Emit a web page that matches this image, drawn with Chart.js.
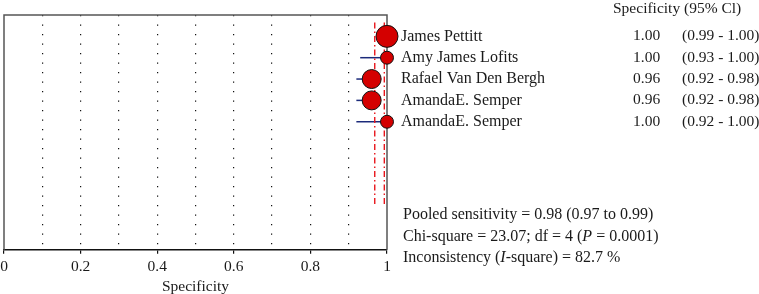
<!DOCTYPE html>
<html>
<head>
<meta charset="utf-8">
<script src="https://cdn.jsdelivr.net/npm/chart.js@4"></script>
<style>
    html, body { margin: 0; padding: 0; background: #fff; }
    #wrap { width: 759px; height: 294px; position: relative; }
</style>
</head>
<body>
<div id="wrap"><canvas id="forest"></canvas></div>
<script>
const studies = ["James Pettitt", "Amy James Lofits", "Rafael Van Den Bergh", "AmandaE. Semper", "AmandaE. Semper"];
const specificity = [1.00, 1.00, 0.96, 0.96, 1.00];
const ciLow = [0.99, 0.93, 0.92, 0.92, 0.92];
const ciHigh = [1.00, 1.00, 0.98, 0.98, 1.00];
const weights = [121, 42, 90, 90, 42];
const pooledLines = [0.968, 0.993];
const pooledSpan = [0.35, 8.95];
const headerText = "Specificity (95% Cl)";
const statsLines = [
    [["Pooled sensitivity = 0.98 (0.97 to 0.99)", false]],
    [["Chi-square = 23.07; df = 4 (", false], ["P", true], [" = 0.0001)", false]],
    [["Inconsistency (", false], ["I", true], ["-square) = 82.7 %", false]]
];

const serif = "'Liberation Serif', 'DejaVu Serif', serif";
const fontSize = 15.5;
const navy = "#1b2a7a";
const red = "#e8141b";

const datasets = [];

// confidence interval whiskers
studies.forEach((s, i) => {
    datasets.push({
        type: "line",
        data: [{ x: ciLow[i], y: i + 1 }, { x: ciHigh[i], y: i + 1 }],
        borderColor: navy,
        borderWidth: 1.5,
        pointRadius: 0,
        clip: false,
        order: 3
    });
});

// pooled estimate lines
pooledLines.forEach(v => {
    datasets.push({
        type: "line",
        data: [{ x: v, y: pooledSpan[0] }, { x: v, y: pooledSpan[1] }],
        borderColor: red,
        borderWidth: 1.4,
        borderDash: [6, 3, 1.5, 3],
        pointRadius: 0,
        order: 2
    });
});

// study points, size from weight
datasets.push({
    type: "scatter",
    data: specificity.map((v, i) => ({ x: v, y: i + 1 })),
    pointRadius: weights.map(w => Math.sqrt(w)),
    pointBackgroundColor: "#d40000",
    pointBorderColor: "#111",
    pointBorderWidth: 1,
    clip: false,
    order: 1
});

const textPlugin = {
    id: "forestText",
    beforeDatasetsDraw(chart) {
        const ctx = chart.ctx;
        const a = chart.chartArea;
        ctx.save();
        // box frame
        ctx.strokeStyle = "#555";
        ctx.lineWidth = 1.5;
        ctx.beginPath();
        ctx.moveTo(a.left, a.bottom);
        ctx.lineTo(a.left, a.top);
        ctx.lineTo(a.right, a.top);
        ctx.lineTo(a.right, a.bottom);
        ctx.stroke();
        ctx.restore();
    },
    afterDraw(chart) {
        const ctx = chart.ctx;
        const yScale = chart.scales.y;
        ctx.save();
        ctx.fillStyle = "#1a1a1a";
        ctx.textBaseline = "middle";
        ctx.textAlign = "left";
        ctx.font = fontSize + "px " + serif;
        ctx.fillText(headerText, 613, 9);

        studies.forEach((s, i) => {
            const y = yScale.getPixelForValue(i + 1);
            ctx.font = "16px " + serif;
            ctx.fillText(s, 401, y);
            ctx.font = fontSize + "px " + serif;
            ctx.fillText(specificity[i].toFixed(2), 633, y);
            ctx.fillText("(" + ciLow[i].toFixed(2) + " - " + ciHigh[i].toFixed(2) + ")", 682, y);
        });

        statsLines.forEach((parts, k) => {
            let x = 403;
            const y = 215 + k * 21.5;
            parts.forEach(([t, it]) => {
                ctx.font = (it ? "italic " : "") + "16px " + serif;
                ctx.fillText(t, x, y);
                x += ctx.measureText(t).width;
            });
        });
        ctx.restore();
    }
};

new Chart(document.getElementById("forest"), {
    data: { datasets: datasets },
    plugins: [textPlugin],
    options: {
        responsive: true,
        maintainAspectRatio: false,
        animation: false,
        layout: { autoPadding: false, padding: { left: 4, right: 372, top: 15, bottom: 0 } },
        plugins: { legend: { display: false }, tooltip: { enabled: false } },
        scales: {
            x: {
                type: "linear",
                min: 0,
                max: 1,
                afterFit: scale => {
                    scale.paddingLeft = 0;
                    scale.paddingRight = 0;
                },
                ticks: {
                    stepSize: 0.1,
                    color: "#1a1a1a",
                    font: { family: serif, size: fontSize },
                    padding: 3.5,
                    maxRotation: 0,
                    autoSkip: false,
                    callback: (v, i) => (i % 2 === 0 ? String(Math.round(v * 10) / 10) : "")
                },
                grid: {
                    color: ctx => (ctx.index === 0 || ctx.index === 10 ? "rgba(0,0,0,0)" : "#111"),
                    lineWidth: 1.2,
                    tickLength: 4,
                    tickColor: ctx => (ctx.index % 2 === 0 ? "#111" : "rgba(0,0,0,0)")
                },
                border: { display: true, color: "#111", width: 1.5, dash: [1.3, 8.2], dashOffset: 0 },
                title: {
                    display: true,
                    text: "Specificity",
                    color: "#1a1a1a",
                    font: { family: serif, size: fontSize, lineHeight: 0.94 },
                    padding: { top: 0, bottom: 0 }
                }
            },
            y: {
                type: "linear",
                display: false,
                reverse: true,
                min: 0,
                max: 11
            }
        }
    }
});
</script>
</body>
</html>
